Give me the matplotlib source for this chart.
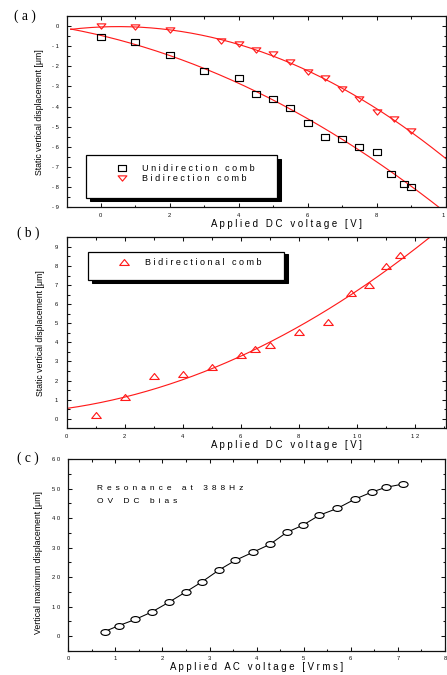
import numpy as np
import matplotlib
matplotlib.use('Agg')
import matplotlib.pyplot as plt
from matplotlib.path import Path
from matplotlib.patches import Rectangle
from matplotlib.ticker import MultipleLocator, FuncFormatter

# ---------------- data ----------------
# (a) static vertical displacement vs DC voltage
uni_v = [0, 1, 2, 3, 4, 4.5, 5, 5.5, 6, 6.5, 7, 7.5, 8, 8.4, 8.8, 9.0]
uni_d = [-0.56, -0.80, -1.43, -2.22, -2.57, -3.35, -3.62, -4.08, -4.79,
         -5.51, -5.61, -6.00, -6.24, -7.36, -7.83, -7.99]
bi_v = [0, 1, 2, 3.5, 4, 4.5, 5, 5.5, 6, 6.5, 7, 7.5, 8, 8.5, 9]
bi_d = [-0.02, -0.07, -0.20, -0.76, -0.88, -1.18, -1.39, -1.79, -2.26,
        -2.59, -3.12, -3.62, -4.25, -4.61, -5.21]
# (b) bidirectional comb
bid_v = [1, 2, 3, 4, 5, 6, 6.5, 7, 8, 9, 9.8, 10.4, 11, 11.5]
bid_d = [0.22, 1.15, 2.25, 2.33, 2.72, 3.36, 3.63, 3.87, 4.52, 5.06,
         6.58, 7.02, 8.02, 8.57]
# (c) resonance amplitude vs AC voltage
ac_v = [0.77, 1.07, 1.42, 1.78, 2.13, 2.49, 2.84, 3.20, 3.55, 3.93, 4.28,
        4.64, 4.98, 5.33, 5.71, 6.08, 6.45, 6.75, 7.11]
ac_d = [1.5, 3.5, 5.6, 8.2, 11.4, 14.9, 18.4, 22.4, 25.7, 28.5, 31.1,
        35.2, 37.6, 41.0, 43.3, 46.4, 48.9, 50.5, 51.6]

legend_a = ["Unidirection comb", "Bidirection comb"]
legend_b = ["Bidirectional comb"]
note_c = ["Resonance at 388Hz", "OV DC bias"]
xlabel_dc = "Applied DC voltage [V]"
xlabel_ac = "Applied AC voltage [Vrms]"
ylabel_static = "Static vertical displacement [\u03bcm]"
ylabel_max = "Vertical maximum displacement [\u03bcm]"

# ---------------- style ----------------
SANS = ['Liberation Sans', 'DejaVu Sans']
SERIF = ['Liberation Serif', 'DejaVu Serif']
plt.rcParams['font.family'] = SANS
RED = '#ff1a1a'


def sp(s, gap=' '):
    return gap.join(list(s))


def tickfmt(v, pos):
    return sp(str(int(round(v))))


def aspect_marker(verts):
    verts = np.asarray(verts, float)
    codes = [Path.MOVETO] + [Path.LINETO] * (len(verts) - 1) + [Path.CLOSEPOLY]
    return Path(np.vstack([verts, verts[:1]]), codes)


rect_m = aspect_marker([(-1, -0.6), (1, -0.6), (1, 0.6), (-1, 0.6)])
tri_dn = aspect_marker([(-1, 0.6), (1, 0.6), (0, -0.6)])
tri_up = aspect_marker([(0, 0.62), (-1, -0.62), (1, -0.62)])
uc = Path.unit_circle()
ellipse_m = Path(uc.vertices * np.array([1.0, 0.64]), uc.codes)

fig = plt.figure(figsize=(447 / 150, 675 / 150), dpi=150)

W, H = 447.0, 675.0


def add_axes(l, r, t, b):
    return fig.add_axes([l / W, 1 - b / H, (r - l) / W, (b - t) / H])


def style(ax, xmaj, xmin_, ymaj, ymin_):
    ax.xaxis.set_major_locator(MultipleLocator(xmaj))
    ax.xaxis.set_minor_locator(MultipleLocator(xmin_))
    ax.yaxis.set_major_locator(MultipleLocator(ymaj))
    ax.yaxis.set_minor_locator(MultipleLocator(ymin_))
    ax.xaxis.set_major_formatter(FuncFormatter(tickfmt))
    ax.yaxis.set_major_formatter(FuncFormatter(tickfmt))
    ax.tick_params(which='both', direction='in', top=True, right=True,
                   width=0.5, color='#111111', labelcolor='#111111', labelsize=2.8)
    ax.tick_params(which='major', length=2.0)
    ax.tick_params(which='minor', length=1.2)
    ax.tick_params(axis='x', pad=2.5)
    ax.tick_params(axis='y', pad=4.1)
    for s in ax.spines.values():
        s.set_linewidth(0.6)
        s.set_color('#111111')


# ---------------- (a) ----------------
axa = add_axes(67.3, 445.7, 16, 207.3)
axa.set_xlim(-0.97, 10)
axa.set_ylim(-9, 0.5)
style(axa, 2, 1, 1, 0.5)
xa = np.linspace(-0.87, 10, 300)
axa.plot(xa, np.polyval(np.polyfit(uni_v, uni_d, 2), xa), color=RED, lw=0.55, zorder=2)
axa.plot(xa, np.polyval(np.polyfit(bi_v, bi_d, 2), xa), color=RED, lw=0.55, zorder=2)
h1, = axa.plot(uni_v, uni_d, ls='none', marker=rect_m, ms=4.3, mfc='none',
               mec='black', mew=0.55, zorder=3)
h2, = axa.plot(bi_v, bi_d, ls='none', marker=tri_dn, ms=4.2, mfc='none',
               mec=RED, mew=0.55, zorder=3)

# legend frame with shadow
lx0, lx1, ly0, ly1 = 0.049, 0.554, 0.049, 0.273
axa.add_patch(Rectangle((lx0 + 0.012, ly0 - 0.018), lx1 - lx0, ly1 - ly0,
                        transform=axa.transAxes, fc='black', ec='black', lw=0.5, zorder=4))
axa.add_patch(Rectangle((lx0, ly0), lx1 - lx0, ly1 - ly0, transform=axa.transAxes,
                        fc='white', ec='black', lw=0.6, zorder=5))
lega = axa.legend([h1, h2], [sp(t) for t in legend_a], loc='upper left',
                  bbox_to_anchor=(0.108, 0.25), frameon=False, borderpad=0,
                  handlelength=2.0, handletextpad=1.25, labelspacing=0.12,
                  prop={'family': SANS, 'size': 4.3}, numpoints=1)
lega.set_zorder(6)
axa.set_xlabel(sp(xlabel_dc), fontsize=4.6)
axa.xaxis.set_label_coords(0.578, -0.087)
axa.xaxis.label.set_va('center')
axa.set_ylabel(ylabel_static, fontsize=4.2)
axa.yaxis.set_label_coords(-0.074, 0.5)
axa.yaxis.label.set_va('center')

# ---------------- (b) ----------------
axb = add_axes(66.7, 445.7, 237.3, 428.3)
axb.set_xlim(0, 13.06)
axb.set_ylim(-0.5, 9.5)
style(axb, 2, 1, 1, 0.5)
xb = np.linspace(0, 13.06, 300)
axb.plot(xb, np.polyval(np.polyfit(bid_v, bid_d, 2), xb), color=RED, lw=0.55, zorder=2)
h3, = axb.plot(bid_v, bid_d, ls='none', marker=tri_up, ms=4.6, mfc='none',
               mec=RED, mew=0.55, zorder=3)
bx0, bx1, by0, by1 = 0.056, 0.573, 0.776, 0.925
axb.add_patch(Rectangle((bx0 + 0.012, by0 - 0.015), bx1 - bx0, by1 - by0,
                        transform=axb.transAxes, fc='black', ec='black', lw=0.5, zorder=4))
axb.add_patch(Rectangle((bx0, by0), bx1 - bx0, by1 - by0, transform=axb.transAxes,
                        fc='white', ec='black', lw=0.6, zorder=5))
legb = axb.legend([h3], [sp(t) for t in legend_b], loc='upper left',
                  bbox_to_anchor=(0.117, 0.915), frameon=False, borderpad=0,
                  handlelength=2.0, handletextpad=1.25,
                  prop={'family': SANS, 'size': 4.3}, numpoints=1)
legb.set_zorder(6)
axb.set_xlabel(sp(xlabel_dc), fontsize=4.6)
axb.xaxis.set_label_coords(0.579, -0.0874)
axb.xaxis.label.set_va('center')
axb.set_ylabel(ylabel_static, fontsize=4.2)
axb.yaxis.set_label_coords(-0.070, 0.5)
axb.yaxis.label.set_va('center')

# ---------------- (c) ----------------
axc = add_axes(68.3, 445.0, 459.3, 650.7)
axc.set_xlim(0, 8)
axc.set_ylim(-5, 60)
style(axc, 1, 0.5, 10, 5)
axc.plot(ac_v, ac_d, color='black', lw=0.5, marker=ellipse_m, ms=4.4,
         mfc='white', mec='black', mew=0.55, zorder=3)
GAP = ' \u2009'
axc.text(0.076, 0.85, sp(note_c[0], GAP), transform=axc.transAxes, fontsize=4.0,
         ha='left', va='center')
axc.text(0.076, 0.777, sp(note_c[1], GAP), transform=axc.transAxes, fontsize=4.0,
         ha='left', va='center')
axc.set_xlabel(sp(xlabel_ac), fontsize=4.6)
axc.xaxis.set_label_coords(0.5, -0.0865)
axc.xaxis.label.set_va('center')
axc.set_ylabel(ylabel_max, fontsize=4.2)
axc.yaxis.set_label_coords(-0.080, 0.46)
axc.yaxis.label.set_va('center')

# panel labels
for lab, x, y in [("( a )", 25, 16), ("( b )", 28.5, 233), ("( c )", 28, 458)]:
    fig.text(x / W, 1 - y / H, lab, family=SERIF, fontsize=6.5,
             ha='center', va='center')

fig.savefig('out.png', dpi=150)
